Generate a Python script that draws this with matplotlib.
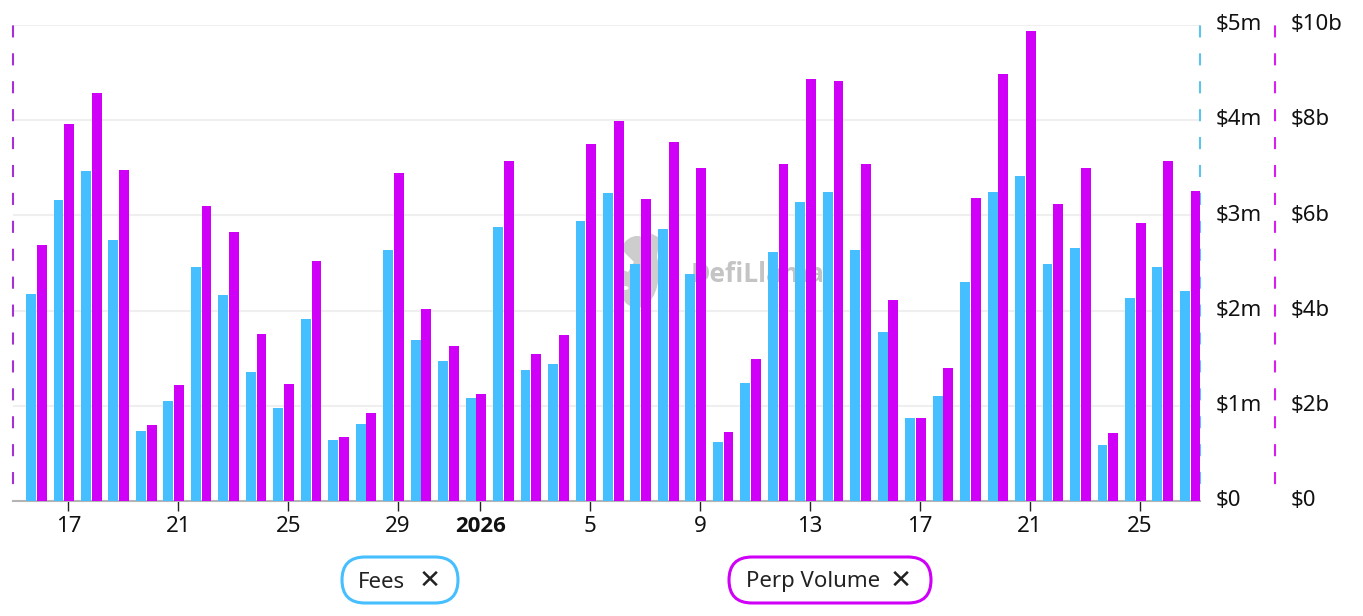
import numpy as np
import pandas as pd
import matplotlib
matplotlib.use('Agg')
import matplotlib.pyplot as plt
import matplotlib.dates as mdates
from matplotlib.patches import FancyBboxPatch, Ellipse, Polygon
from matplotlib.transforms import ScaledTranslation

dates = pd.date_range('2025-12-16', '2026-01-27')
fees = [2.17, 3.16, 3.47, 2.74, 0.74, 1.05, 2.46, 2.16, 1.36, 0.98, 1.91,
        0.64, 0.81, 2.64, 1.69, 1.47, 1.08, 2.88, 1.38, 1.44, 2.94, 3.24,
        2.49, 2.86, 2.38, 0.62, 1.24, 2.62, 3.14, 3.25, 2.64, 1.78, 0.87,
        1.10, 2.30, 3.25, 3.41, 2.49, 2.66, 0.59, 2.13, 2.46, 2.21]
perp_volume = [5.38, 7.92, 8.57, 6.95, 1.60, 2.44, 6.20, 5.65, 3.51, 2.46, 5.04,
               1.34, 1.85, 6.89, 4.03, 3.26, 2.25, 7.14, 3.09, 3.49, 7.50, 7.98,
               6.34, 7.54, 7.00, 1.45, 2.98, 7.08, 8.87, 8.82, 7.08, 4.22, 1.74,
               2.79, 6.37, 8.97, 9.87, 6.24, 7.00, 1.43, 5.84, 7.14, 6.51]
tick_dates = ['2025-12-17', '2025-12-21', '2025-12-25', '2025-12-29', '2026-01-01',
              '2026-01-05', '2026-01-09', '2026-01-13', '2026-01-17', '2026-01-21',
              '2026-01-25']
tick_labels = ['17', '21', '25', '29', '2026', '5', '9', '13', '17', '21', '25']
fees_ticks = [0, 1, 2, 3, 4, 5]
fees_labels = ['$0', '$1m', '$2m', '$3m', '$4m', '$5m']
perp_ticks = [0, 2, 4, 6, 8, 10]
perp_labels = ['$0', '$2b', '$4b', '$6b', '$8b', '$10b']

BLUE = '#45bfff'
MAGENTA = '#d000f8'
W, H = 1363, 616
FONT = ['Noto Sans', 'DejaVu Sans']
plt.rcParams['font.family'] = FONT


def dashed(spine, color):
    spine.set_color(color)
    spine.set_linewidth(1.5)
    spine.set_linestyle((4.8, (4.8, 8.6)))


fig = plt.figure(figsize=(W / 100, H / 100), dpi=100)

# pixel overlay behind the chart for the watermark and the legend pills
bg = fig.add_axes([0, 0, 1, 1], zorder=0)
bg.set_xlim(0, W)
bg.set_ylim(H, 0)
bg.axis('off')
bg.add_patch(Ellipse((637, 272), 44, 72, color='#cdcdcd', lw=0))
bg.add_patch(Polygon([(622, 250), (634, 262), (628, 272), (618, 268)], color='white', lw=0))
bg.add_patch(Polygon([(648, 232), (660, 238), (656, 262), (648, 258)], color='#cdcdcd', lw=0))
bg.add_patch(Ellipse((625, 288), 7, 4, color='white', lw=0))
bg.text(691, 275, 'DefiLlama', color='#c4c4c4', fontsize=19, fontweight='bold',
        family='Open Sans', va='center', ha='left')

for x0, x1, color, name, tx, cx in [(342, 458, BLUE, 'Fees', 358, 430),
                                    (729, 931, MAGENTA, 'Perp Volume', 746, 901)]:
    bg.add_patch(FancyBboxPatch((x0, 557), x1 - x0, 46,
                                boxstyle='round,pad=0,rounding_size=23',
                                fc='white', ec=color, lw=2.2))
    bg.text(tx, 582, name, fontsize=16, color='#222222', va='center', ha='left')
    bg.text(cx, 581, '\u2715', fontsize=19, color='#222222', va='center', ha='center',
            family='DejaVu Sans')

# main axes
ax = fig.add_axes([13 / W, 1 - 501 / H, (1200 - 13) / W, (501 - 25) / H], zorder=1)
ax.patch.set_visible(False)
ax2 = ax.twinx()
ax2.set_zorder(2)
ax2.patch.set_visible(False)

x = mdates.date2num(dates)
ax.bar(x - 0.2, fees, width=0.36, color=BLUE, linewidth=0, zorder=3)
ax2.bar(x + 0.19, perp_volume, width=0.36, color=MAGENTA, linewidth=0, zorder=3)

ax.set_xlim(x[0] - 0.855, x[-1] + 0.35)
ax.set_ylim(0, 5)
ax2.set_ylim(0, 10)

# spine position resets the ticks, so do it before touching tick labels
for spine in ax.spines.values():
    spine.set_visible(False)
for spine in ax2.spines.values():
    spine.set_visible(False)
ax.spines['bottom'].set_visible(True)
ax.spines['bottom'].set_color('#b4b4b4')
ax.spines['bottom'].set_linewidth(1.5)
ax.spines['left'].set_visible(True)
dashed(ax.spines['left'], '#a82fd4')
ax.spines['right'].set_visible(True)
dashed(ax.spines['right'], '#5cc3ea')
ax2.spines['right'].set_visible(True)
ax2.spines['right'].set_position(('outward', 54))
dashed(ax2.spines['right'], '#d81ff0')

ax.yaxis.tick_right()
ax.set_yticks(fees_ticks, fees_labels)
ax2.set_yticks(perp_ticks, perp_labels)
ax.tick_params(axis='y', length=0, pad=11.5, labelsize=16, labelcolor='#111111')
ax2.tick_params(axis='y', length=0, pad=11.5, labelsize=16, labelcolor='#111111')
ax.grid(axis='y', color='#efefef', lw=1.5, zorder=0)
ax.set_axisbelow(True)

# tick marks sit a bit right of the bar group centres
ax.set_xticks(mdates.date2num(pd.to_datetime(tick_dates)) + 0.16, tick_labels)
ax.tick_params(axis='x', length=7, width=1, color='#222222', pad=4, labelsize=16,
               labelcolor='#111111')
for lab in ax.get_xticklabels():
    if lab.get_text() == '2026':
        lab.set_family('Open Sans')
        lab.set_fontweight('bold')

shift = ScaledTranslation(0, 2 / 72, fig.dpi_scale_trans)
for lab in ax.get_yticklabels() + ax2.get_yticklabels():
    lab.set_transform(lab.get_transform() + shift)

fig.savefig('out.png', dpi=100)
